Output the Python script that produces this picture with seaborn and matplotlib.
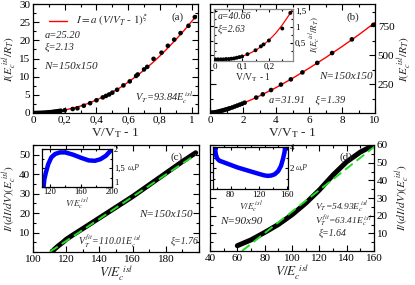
import numpy as np
import pandas as pd
import matplotlib
matplotlib.use("Agg")
import matplotlib.pyplot as plt
import matplotlib.ticker as mt
import seaborn as sns

# ---------------- data ----------------
# panel (a): I vs V/V_T-1, dots and fit
a_dot_x = [0.005, 0.015, 0.025, 0.035, 0.045, 0.055, 0.065, 0.075, 0.085, 0.095, 0.105, 0.115,
           0.125, 0.135, 0.145, 0.155, 0.165, 0.175, 0.2, 0.25, 0.28, 0.32, 0.36, 0.40, 0.44,
           0.46, 0.48, 0.50, 0.53, 0.57, 0.61, 0.65, 0.66, 0.70, 0.72, 0.76, 0.81, 0.85,
           0.89, 0.93, 0.98, 1.02]
a_dot_y = [0.0, 0.0, 0.01, 0.02, 0.03, 0.05, 0.07, 0.09, 0.13, 0.17, 0.21, 0.25,
           0.30, 0.36, 0.42, 0.48, 0.55, 0.62, 0.75, 1.1, 1.3, 2.0, 2.7, 3.5, 4.3,
           4.7, 5.1, 5.6, 6.4, 7.6, 8.7, 10.2, 10.6, 12.0, 12.7, 14.9, 16.6, 18.5,
           20.2, 22.0, 24.0, 26.4]
a_fit_x = [0, 0.05, 0.1, 0.15, 0.2, 0.25, 0.3, 0.35, 0.4, 0.45, 0.5, 0.55, 0.6, 0.65,
           0.7, 0.75, 0.8, 0.85, 0.9, 0.95, 1.0, 1.03]
a_fit_y = [0, 0.04, 0.19, 0.44, 0.82, 1.32, 1.93, 2.68, 3.6, 4.6, 5.75, 7.0, 8.5, 10.1,
           11.8, 13.7, 15.7, 17.9, 20.2, 22.6, 25.2, 26.8]

# panel (b)
b_dot_x = [0.05, 0.1, 0.15, 0.2, 0.3, 0.4, 0.5, 0.6, 0.7, 0.8, 0.9, 1.0, 1.1, 1.2, 1.35,
           1.5, 1.65, 1.8, 1.95, 2.1, 2.8, 3.2, 3.7, 4.3, 4.9, 5.6, 6.5, 7.4, 8.6, 9.9]
b_dot_y = [0.5, 1.3, 2.3, 3.4, 6, 9, 12, 16, 20, 23, 28, 32, 36, 41, 48,
           56, 64, 72, 80, 89, 133, 161, 198, 245, 290, 350, 432, 517, 635, 760]
b_fit_x = [0, 0.25, 0.5, 0.75, 1, 1.5, 2, 2.5, 3, 4, 5, 6, 7, 8, 9, 10]
b_fit_y = [0, 4.8, 12.2, 21.6, 31.9, 56.2, 83.7, 114, 147, 219, 299, 386, 477, 573, 673, 780]

# inset of (b)
bi_dot_x = [0.0, 0.01, 0.02, 0.03, 0.04, 0.05, 0.06, 0.07, 0.08, 0.09, 0.10, 0.12, 0.15,
            0.17, 0.18, 0.20, 0.25, 0.28]
bi_dot_y = [0.0, 0.0, 0.0, 0.0, 0.01, 0.01, 0.02, 0.03, 0.05, 0.07, 0.09, 0.16, 0.28,
            0.40, 0.46, 0.58, 0.95, 1.43]
bi_fit_x = [0, 0.05, 0.1, 0.125, 0.15, 0.175, 0.2, 0.225, 0.25, 0.27, 0.28, 0.29]
bi_fit_y = [0, 0.015, 0.095, 0.171, 0.277, 0.415, 0.59, 0.80, 1.06, 1.30, 1.43, 1.57]

# panel (c)
c_dat_x = [112, 113, 115, 118, 120, 125, 130, 140, 150, 160, 170, 180, 190, 198]
c_dat_y = [0.5, 1.5, 3.0, 5.0, 6.5, 9.3, 12.0, 17.5, 23.0, 28.5, 34.5, 40.5, 46.5, 51.0]
c_fit_x = [110.01, 198]
c_fit_y = [0.0, 50.0]
ci_x = [112, 113, 115, 118, 122, 127, 133, 140, 150, 160, 170, 178, 185, 192, 198, 200]
ci_y = [1.0, 1.2, 1.38, 1.6, 1.78, 1.87, 1.91, 1.91, 1.85, 1.77, 1.70, 1.69, 1.73, 1.82,
        1.95, 2.0]

# panel (d)
d_dat_x = [60, 70, 80, 90, 100, 110, 120, 130, 140, 150, 160]
d_dat_y = [3, 6.3, 10.5, 15, 20.5, 27, 34.5, 43, 50.5, 56, 60]
d_fit_x = [63.41, 162]
d_fit_y = [0.0, 60.1]
di_x = [58, 58.5, 59, 61, 64, 70, 80, 90, 100, 110, 120, 128, 133, 138, 143, 148, 152,
        155, 157, 158]
di_y = [4.0, 3.6, 3.3, 2.9, 2.7, 2.55, 2.3, 2.05, 1.85, 1.65, 1.45, 1.3, 1.25, 1.28,
        1.4, 1.7, 2.2, 2.9, 3.5, 4.0]

# ---------------- style ----------------
sns.set_style("ticks")
plt.rcParams["font.family"] = ["Liberation Serif", "DejaVu Serif"]
plt.rcParams["mathtext.fontset"] = "stix"
plt.rcParams["axes.linewidth"] = 0.9
for ax_ in ("xtick", "ytick"):
    plt.rcParams[f"{ax_}.direction"] = "in"
    plt.rcParams[f"{ax_}.major.size"] = 4
    plt.rcParams[f"{ax_}.minor.size"] = 2
    plt.rcParams[f"{ax_}.major.width"] = 0.8
    plt.rcParams[f"{ax_}.minor.width"] = 0.8
    plt.rcParams[f"{ax_}.labelsize"] = 8
    plt.rcParams[f"{ax_}.color"] = "black"
plt.rcParams["xtick.major.pad"] = 2
plt.rcParams["ytick.major.pad"] = 2

W, H = 415, 285
fig = plt.figure(figsize=(W / 100, H / 100), dpi=100)


def box(x0, y0, x1, y1):
    return [x0 / W, 1 - y1 / H, (x1 - x0) / W, (y1 - y0) / H]


comma = mt.FuncFormatter(lambda v, p: f"{v:g}".replace(".", ","))

ax_a = fig.add_axes(box(33, 4, 198, 113))
ax_b = fig.add_axes(box(210, 4, 375, 113))
ax_c = fig.add_axes(box(33, 145, 199, 252))
ax_d = fig.add_axes(box(210, 145, 374, 251))
ax_bi = fig.add_axes(box(214, 9, 293, 61))
ax_ci = fig.add_axes(box(42, 149, 112, 187))
ax_di = fig.add_axes(box(213, 147, 288, 189))

for ax in (ax_a, ax_b, ax_c, ax_d, ax_bi, ax_ci, ax_di):
    for s in ax.spines.values():
        s.set_visible(True)
        s.set_color("black")
    ax.tick_params(which="both", top=True, right=True, bottom=True, left=True)

it = dict(fontstyle="italic")
YL = 8.2

# ---------------- panel (a) ----------------
df = pd.DataFrame({"x": a_fit_x, "y": a_fit_y})
sns.lineplot(data=df, x="x", y="y", ax=ax_a, color="red", lw=1.0,
             label=r"$I = a\ (V/V_T$ - $1)^{\xi}$")
sns.scatterplot(x=a_dot_x, y=a_dot_y, ax=ax_a, color="black", s=11, edgecolor="none",
                zorder=3)
ax_a.set_xlim(0, 1.04)
ax_a.set_ylim(0, 30)
ax_a.xaxis.set_major_locator(mt.MultipleLocator(0.2))
ax_a.xaxis.set_minor_locator(mt.MultipleLocator(0.1))
ax_a.xaxis.set_major_formatter(comma)
ax_a.yaxis.set_major_locator(mt.MultipleLocator(5))
ax_a.yaxis.set_minor_locator(mt.MultipleLocator(2.5))
ax_a.set_xlabel(r"V/V$_{\mathrm{T}}$ - 1", fontsize=9.5, labelpad=1)
ax_a.set_ylabel(r"$I(E_c^{\ isl}/R_T)$", fontsize=YL)
ax_a.yaxis.set_label_coords(-0.082, 0.5)
leg = ax_a.legend(loc="upper left", frameon=False, fontsize=8, handlelength=1.6,
                  borderaxespad=0.3, bbox_to_anchor=(0.05, 0.99))
ax_a.text(0.07, 0.69, "a=25.20", transform=ax_a.transAxes, fontsize=7.5, **it)
ax_a.text(0.07, 0.58, "ξ=2.13", transform=ax_a.transAxes, fontsize=7.5, **it)
ax_a.text(0.07, 0.40, "N=150x150", transform=ax_a.transAxes, fontsize=8, **it)
ax_a.text(0.84, 0.86, "(a)", transform=ax_a.transAxes, fontsize=8)
ax_a.text(0.62, 0.11, r"V$_T$=93.84E$_c^{\ isl}$", transform=ax_a.transAxes,
          fontsize=7.5, **it)

# ---------------- panel (b) ----------------
sns.lineplot(x=b_fit_x, y=b_fit_y, ax=ax_b, color="red", lw=1.0)
sns.scatterplot(x=b_dot_x, y=b_dot_y, ax=ax_b, color="black", s=11, edgecolor="none",
                zorder=3)
ax_b.set_xlim(0, 10)
ax_b.set_ylim(0, 940)
ax_b.xaxis.set_major_locator(mt.MultipleLocator(2))
ax_b.xaxis.set_minor_locator(mt.MultipleLocator(1))
ax_b.set_yticks([250, 500, 750])
ax_b.yaxis.set_minor_locator(mt.FixedLocator([125, 375, 625, 875]))
ax_b.yaxis.tick_right()
ax_b.yaxis.set_label_position("right")
ax_b.tick_params(which="both", left=True, labelleft=False, labelright=True)
ax_b.set_xlabel(r"V/V$_{\mathrm{T}}$ - 1", fontsize=9.5, labelpad=1)
ax_b.set_ylabel(r"$I(E_c^{\ isl}/R_T)$", fontsize=YL, rotation=90)
ax_b.yaxis.set_label_coords(1.125, 0.5)
ax_b.text(0.83, 0.86, "(b)", transform=ax_b.transAxes, fontsize=8)
ax_b.text(0.66, 0.31, "N=150x150", transform=ax_b.transAxes, fontsize=8, **it)
ax_b.text(0.36, 0.09, "a=31.91    ξ=1.39", transform=ax_b.transAxes, fontsize=7.5, **it)

# inset (b)
sns.lineplot(x=bi_fit_x, y=bi_fit_y, ax=ax_bi, color="red", lw=0.9)
sns.scatterplot(x=bi_dot_x, y=bi_dot_y, ax=ax_bi, color="black", s=8, edgecolor="none",
                zorder=3)
ax_bi.set_xlim(-0.005, 0.29)
ax_bi.set_ylim(-0.05, 1.55)
ax_bi.xaxis.set_major_locator(mt.MultipleLocator(0.1))
ax_bi.xaxis.set_minor_locator(mt.MultipleLocator(0.05))
ax_bi.xaxis.set_major_formatter(comma)
ax_bi.set_yticks([0.5, 1.0, 1.5])
ax_bi.yaxis.set_minor_locator(mt.FixedLocator([0.25, 0.75, 1.25]))
ax_bi.yaxis.set_major_formatter(comma)
ax_bi.yaxis.tick_right()
ax_bi.yaxis.set_label_position("right")
ax_bi.tick_params(which="both", left=True, labelleft=False, labelright=True,
                  labelsize=6.5, length=2.5, pad=1.5)
ax_bi.tick_params(which="minor", length=1.5)
ax_bi.set_xlabel(r"V/V$_{\mathrm{T}}$ - 1", fontsize=7, labelpad=0)
ax_bi.set_ylabel(r"$I(E_c^{\ isl}/R_T)$", fontsize=6.5, labelpad=1)
for s in ax_bi.spines.values():
    s.set_color("#888888")
ax_bi.text(0.05, 0.80, "a=40.66", transform=ax_bi.transAxes, fontsize=7, **it)
ax_bi.text(0.05, 0.56, "ξ=2.63", transform=ax_bi.transAxes, fontsize=7, **it)

# ---------------- panel (c) ----------------
sns.lineplot(x=c_dat_x, y=c_dat_y, ax=ax_c, color="black", lw=3.6)
sns.lineplot(x=c_fit_x, y=c_fit_y, ax=ax_c, color="#22dd22", lw=1.4,
             linestyle=(0, (5, 2.5)))
ax_c.set_xlim(100, 200)
ax_c.set_ylim(0, 55)
ax_c.set_xticks([100, 120, 140, 160, 180, 200])
ax_c.set_xticklabels(["100", "120", "140", "160", "180", ""])
ax_c.xaxis.set_minor_locator(mt.MultipleLocator(10))
ax_c.set_yticks([10, 20, 30, 40, 50])
ax_c.yaxis.set_minor_locator(mt.MultipleLocator(5))
ax_c.set_xlabel(r"$V/E_c^{\ isl}$", fontsize=9.5, labelpad=0)
ax_c.set_ylabel(r"$I/(dI/dV)(E_c^{\ isl})$", fontsize=YL)
ax_c.yaxis.set_label_coords(-0.082, 0.5)
ax_c.text(0.83, 0.86, "(c)", transform=ax_c.transAxes, fontsize=8)
ax_c.text(0.64, 0.33, "N=150x150", transform=ax_c.transAxes, fontsize=8, **it)
ax_c.text(0.27, 0.07, r"V$_T^{\ fit}$=110.01E$_c^{\ isl}$", transform=ax_c.transAxes,
          fontsize=7, **it)
ax_c.text(0.83, 0.08, "ξ=1.76", transform=ax_c.transAxes, fontsize=7, **it)

# inset (c)
sns.lineplot(x=ci_x, y=ci_y, ax=ax_ci, color="#0000ff", lw=3.2)
ax_ci.set_xlim(110, 200)
ax_ci.set_ylim(1, 2)
ax_ci.set_xticks([120, 160, 200])
ax_ci.xaxis.set_minor_locator(mt.FixedLocator([140, 180]))
ax_ci.set_yticks([1, 1.5, 2])
ax_ci.yaxis.set_minor_locator(mt.FixedLocator([1.25, 1.75]))
ax_ci.yaxis.set_major_formatter(comma)
ax_ci.yaxis.tick_right()
ax_ci.tick_params(which="both", left=True, labelleft=False, labelright=True,
                  labelsize=6.2, length=2.5, pad=1.5)
ax_ci.tick_params(which="minor", length=1.5)
ax_ci.tick_params(axis="x", pad=1)
ax_ci.set_xlabel(r"$V/E_c^{\ isl}$", fontsize=6.5, labelpad=0)
ax_ci.text(1.23, 0.5, "ω,P", transform=ax_ci.transAxes, fontsize=5.5, va="center", **it)
fig.canvas.draw()
for lbl in ax_ci.get_yticklabels():
    if lbl.get_text() == "1":
        lbl.set_va("bottom")

# ---------------- panel (d) ----------------
sns.lineplot(x=d_dat_x, y=d_dat_y, ax=ax_d, color="black", lw=3.6)
sns.lineplot(x=d_fit_x, y=d_fit_y, ax=ax_d, color="#22dd22", lw=1.4,
             linestyle=(0, (5, 2.5)))
ax_d.set_xlim(40, 160)
ax_d.set_ylim(0, 60)
ax_d.xaxis.set_major_locator(mt.MultipleLocator(20))
ax_d.xaxis.set_minor_locator(mt.MultipleLocator(10))
ax_d.set_yticks([10, 20, 30, 40, 50, 60])
ax_d.yaxis.set_minor_locator(mt.MultipleLocator(5))
ax_d.yaxis.tick_right()
ax_d.yaxis.set_label_position("right")
ax_d.tick_params(which="both", left=True, labelleft=False, labelright=True)
ax_d.set_xlabel(r"$V/E_c^{\ isl}$", fontsize=9.5, labelpad=0)
ax_d.set_ylabel(r"$I/(dI/dV)(E_c^{\ isl})$", fontsize=YL, rotation=90)
ax_d.yaxis.set_label_coords(1.12, 0.5)
ax_d.text(0.79, 0.86, "(d)", transform=ax_d.transAxes, fontsize=8)
ax_d.text(0.64, 0.39, r"V$_T$=54.93E$_c^{\ isl}$", transform=ax_d.transAxes,
          fontsize=6.8, **it)
ax_d.text(0.64, 0.255, r"V$_T^{\ fit}$=63.41E$_c^{\ isl}$", transform=ax_d.transAxes,
          fontsize=6.8, **it)
ax_d.text(0.66, 0.14, "ξ=1.64", transform=ax_d.transAxes, fontsize=7, **it)
ax_d.text(0.06, 0.25, "N=90x90", transform=ax_d.transAxes, fontsize=8, **it)

# inset (d)
sns.lineplot(x=di_x, y=di_y, ax=ax_di, color="#0000ff", lw=3.2, sort=False)
ax_di.set_xlim(55, 162)
ax_di.set_ylim(0, 4)
ax_di.set_xticks([80, 120, 160])
ax_di.xaxis.set_minor_locator(mt.FixedLocator([60, 100, 140]))
ax_di.set_yticks([2, 4])
ax_di.yaxis.set_minor_locator(mt.FixedLocator([1, 3]))
ax_di.yaxis.tick_right()
ax_di.tick_params(which="both", left=True, labelleft=False, labelright=True,
                  labelsize=6.5, length=2.5, pad=1.5)
ax_di.tick_params(which="minor", length=1.5)
ax_di.set_xlabel(r"$V/E_c^{\ isl}$", fontsize=6.5, labelpad=0)
ax_di.text(1.1, 0.5, "ω,P", transform=ax_di.transAxes, fontsize=5.5, va="center", **it)

for ax in (ax_a, ax_b, ax_c, ax_d, ax_bi, ax_ci, ax_di):
    lg = ax.get_legend()
    if lg is not None and ax is not ax_a:
        lg.remove()
for t in leg.get_texts():
    t.set_fontstyle("italic")

fig.savefig("out.png", dpi=100)
